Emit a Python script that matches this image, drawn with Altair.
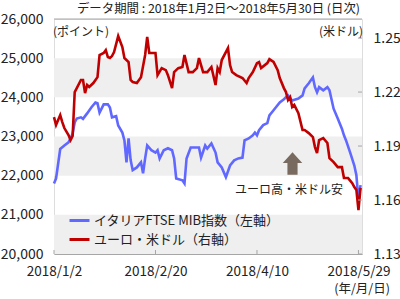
import altair as alt
import pandas as pd

# ---------------- data ----------------
ftse_dates = [
    "2018/01/02", "2018/01/03", "2018/01/05", "2018/01/07", "2018/01/09", "2018/01/10",
    "2018/01/11", "2018/01/12", "2018/01/13", "2018/01/15", "2018/01/16", "2018/01/18",
    "2018/01/20", "2018/01/22", "2018/01/23", "2018/01/24", "2018/01/26", "2018/01/28",
    "2018/01/29", "2018/01/30", "2018/02/01", "2018/02/02", "2018/02/04", "2018/02/05",
    "2018/02/06", "2018/02/07", "2018/02/08", "2018/02/09", "2018/02/11", "2018/02/13",
    "2018/02/14", "2018/02/15", "2018/02/16", "2018/02/18", "2018/02/20", "2018/02/21",
    "2018/02/22", "2018/02/24", "2018/02/26", "2018/02/28", "2018/03/01", "2018/03/02",
    "2018/03/05", "2018/03/06", "2018/03/07", "2018/03/09", "2018/03/13", "2018/03/14",
    "2018/03/16", "2018/03/17", "2018/03/19", "2018/03/21", "2018/03/22", "2018/03/24",
    "2018/03/26", "2018/03/28", "2018/03/30", "2018/04/01", "2018/04/03", "2018/04/04",
    "2018/04/06", "2018/04/08", "2018/04/09", "2018/04/10", "2018/04/11", "2018/04/13",
    "2018/04/15", "2018/04/16", "2018/04/18", "2018/04/21", "2018/04/23", "2018/04/25",
    "2018/04/27", "2018/04/30", "2018/05/02", "2018/05/03", "2018/05/05", "2018/05/07",
    "2018/05/08", "2018/05/09", "2018/05/10", "2018/05/12", "2018/05/14", "2018/05/15",
    "2018/05/17", "2018/05/19", "2018/05/21", "2018/05/22", "2018/05/23", "2018/05/25",
    "2018/05/27", "2018/05/28", "2018/05/29", "2018/05/30",
]
ftse_values = [
    21800, 21930, 22680, 22770, 22850, 22950,
    23080, 23360, 23460, 23490, 23450, 23590,
    23740, 23870, 23850, 23610, 23820, 23820,
    23740, 23490, 23520, 23280, 23100, 22900,
    22340, 22950, 22400, 22140, 22210, 22340,
    22060, 22440, 22770, 22650, 22590, 22650,
    22440, 22650, 22700, 22650, 22440, 21930,
    21880, 21800, 22440, 22720, 22720, 22460,
    22770, 22690, 22820, 22590, 22340, 22210,
    21960, 22260, 22390, 22440, 22460, 22900,
    22950, 23030, 23100, 23030, 23160, 23290,
    23340, 23540, 23670, 23870, 23950, 24050,
    23920, 23970, 24050, 24230, 24360, 24510,
    24260, 24130, 24260, 24180, 24260, 24180,
    23710, 23460, 23200, 23030, 22900, 22590,
    22260, 22010, 21370, 21760,
]

eur_dates = [
    "2018/01/02", "2018/01/03", "2018/01/05", "2018/01/06", "2018/01/07", "2018/01/09",
    "2018/01/10", "2018/01/11", "2018/01/12", "2018/01/13", "2018/01/15", "2018/01/16",
    "2018/01/17", "2018/01/18", "2018/01/19", "2018/01/21", "2018/01/23", "2018/01/24",
    "2018/01/26", "2018/01/27", "2018/01/28", "2018/01/29", "2018/01/30", "2018/01/31",
    "2018/02/02", "2018/02/04", "2018/02/05", "2018/02/07", "2018/02/08", "2018/02/09",
    "2018/02/11", "2018/02/13", "2018/02/15", "2018/02/16", "2018/02/17", "2018/02/20",
    "2018/02/21", "2018/02/23", "2018/02/25", "2018/02/26", "2018/02/28", "2018/03/01",
    "2018/03/03", "2018/03/05", "2018/03/06", "2018/03/08", "2018/03/10", "2018/03/12",
    "2018/03/13", "2018/03/15", "2018/03/17", "2018/03/19", "2018/03/21", "2018/03/22",
    "2018/03/23", "2018/03/24", "2018/03/27", "2018/03/28", "2018/03/29", "2018/03/31",
    "2018/04/03", "2018/04/05", "2018/04/06", "2018/04/08", "2018/04/10", "2018/04/11",
    "2018/04/12", "2018/04/15", "2018/04/16", "2018/04/18", "2018/04/20", "2018/04/21",
    "2018/04/23", "2018/04/24", "2018/04/25", "2018/04/26", "2018/04/27", "2018/04/28",
    "2018/04/30", "2018/05/02", "2018/05/03", "2018/05/05", "2018/05/07", "2018/05/08",
    "2018/05/09", "2018/05/10", "2018/05/12", "2018/05/14", "2018/05/15", "2018/05/17",
    "2018/05/19", "2018/05/21", "2018/05/22", "2018/05/24", "2018/05/26", "2018/05/27",
    "2018/05/28", "2018/05/29", "2018/05/30",
]
eur_values = [
    1.2061, 1.2017, 1.2072, 1.2033, 1.2000, 1.1961,
    1.1933, 1.1956, 1.2200, 1.2222, 1.2267, 1.2267,
    1.2194, 1.2239, 1.2228, 1.2250, 1.2283, 1.2406,
    1.2417, 1.2433, 1.2394, 1.2389, 1.2400, 1.2422,
    1.2511, 1.2450, 1.2389, 1.2367, 1.2267, 1.2256,
    1.2250, 1.2283, 1.2406, 1.2506, 1.2417, 1.2417,
    1.2294, 1.2333, 1.2322, 1.2294, 1.2222, 1.2311,
    1.2333, 1.2339, 1.2406, 1.2311, 1.2311, 1.2333,
    1.2389, 1.2311, 1.2311, 1.2339, 1.2239, 1.2333,
    1.2311, 1.2378, 1.2444, 1.2350, 1.2311, 1.2294,
    1.2278, 1.2250, 1.2278, 1.2311, 1.2361, 1.2367,
    1.2333, 1.2361, 1.2383, 1.2367, 1.2322, 1.2278,
    1.2222, 1.2200, 1.2156, 1.2172, 1.2117, 1.2128,
    1.2083, 1.1989, 1.1989, 1.1972, 1.1950, 1.1894,
    1.1861, 1.1933, 1.1944, 1.1917, 1.1833, 1.1811,
    1.1783, 1.1783, 1.1722, 1.1722, 1.1694, 1.1672,
    1.1656, 1.1544, 1.1667,
]

series_names = ["イタリアFTSE MIB指数（左軸）", "ユーロ・米ドル（右軸）"]
series_colors = ["#6068FF", "#C00000"]

band_low = [20000, 22000, 24000]
band_high = [21000, 23000, 25000]
left_ticks = [20000, 21000, 22000, 23000, 24000, 25000, 26000]
right_ticks = [1.13, 1.16, 1.19, 1.22, 1.25]
x_tick_dates = ["2018/01/02", "2018/02/20", "2018/04/10", "2018/05/29"]

title_text = "データ期間 : 2018年1月2日～2018年5月30日 (日次)"
left_unit = "(ポイント)"
right_unit = "(米ドル)"
x_unit = "(年/月/日)"
note_text = "ユーロ高・米ドル安"

# ---------------- layout ----------------
W, H = 308, 235
FONT = "Noto Sans CJK JP"
TXT = "#222222"
GRID = "#A6A6A6"

df_ftse = pd.DataFrame({"date": ftse_dates, "value": ftse_values, "series": series_names[0]})
df_eur = pd.DataFrame({"date": eur_dates, "value": eur_values, "series": series_names[1]})

x_scale = alt.Scale(domain=[alt.DateTime(year=2018, month=1, date=2),
                            alt.DateTime(year=2018, month=5, date=30, hours=17)])
left_scale = alt.Scale(domain=[20000, 26000], nice=False, zero=False)
right_scale = alt.Scale(domain=[1.13, 1.2606], nice=False, zero=False)
color_scale = alt.Scale(domain=series_names, range=series_colors)

one = alt.Data(values=[{"a": 1}])

x_axis = alt.Axis(
    values=[alt.DateTime(year=2018, month=1, date=2), alt.DateTime(year=2018, month=2, date=20),
            alt.DateTime(year=2018, month=4, date=10), alt.DateTime(year=2018, month=5, date=29)],
    format="%Y/%-m/%-d", title=None, ticks=False, grid=False, domainColor=GRID,
    labelFontSize=13.5, labelColor=TXT, labelPadding=10, labelFont=FONT,
    labelFlush=False, labelOverlap=False, labelBound=False)

bands = alt.Chart(pd.DataFrame({"lo": band_low, "hi": band_high})).mark_rect(
    color="#EFEFEF").encode(
    x=alt.value(0), x2=alt.value(W),
    y=alt.Y("lo:Q", scale=left_scale, axis=None), y2="hi:Q")

top_line = alt.Chart(one).mark_rule(color=GRID, strokeWidth=1).encode(
    x=alt.value(0), x2=alt.value(W), y=alt.value(0))

legend = alt.Legend(title=None, orient="none", legendX=14, legendY=190,
                    symbolType="stroke", symbolSize=400, symbolStrokeWidth=3,
                    labelFontSize=13, labelFont=FONT, labelColor=TXT, labelOffset=3,
                    rowPadding=0, padding=0, labelLimit=400)

ftse_line = alt.Chart(df_ftse).mark_line(strokeWidth=2.6).encode(
    x=alt.X("date:T", scale=x_scale, axis=x_axis),
    y=alt.Y("value:Q", scale=left_scale,
            axis=alt.Axis(values=left_ticks, format=",d", title=None, ticks=False,
                          domain=False, grid=False, labelPadding=11, labelFontSize=14,
                          labelColor=TXT, labelFont=FONT)),
    color=alt.Color("series:N", scale=color_scale, legend=legend))

eur_line = alt.Chart(df_eur).mark_line(strokeWidth=2.6).encode(
    x=alt.X("date:T", scale=x_scale, axis=x_axis),
    y=alt.Y("value:Q", scale=right_scale,
            axis=alt.Axis(orient="right", values=right_ticks, format=".2f", title=None,
                          ticks=False, domain=False, grid=False, labelPadding=11,
                          labelFontSize=14, labelColor=TXT, labelFont=FONT)),
    color=alt.Color("series:N", scale=color_scale, legend=legend))

x_ticks = alt.Chart(pd.DataFrame({"date": x_tick_dates})).mark_rule(color=GRID).encode(
    x=alt.X("date:T", scale=x_scale, axis=x_axis), y=alt.value(H - 4), y2=alt.value(H))

r_ticks = alt.Chart(pd.DataFrame({"v": right_ticks})).mark_rule(color=GRID).encode(
    y=alt.Y("v:Q", scale=right_scale, axis=None), x=alt.value(W - 4), x2=alt.value(W))

def label(text, x, y, align, size):
    return alt.Chart(one).mark_text(text=text, align=align, baseline="middle",
                                    fontSize=size, font=FONT, color=TXT).encode(
        x=alt.value(x), y=alt.value(y))

arrow = alt.Chart(one).mark_point(
    shape="M0,-1.15 L1,-0.05 L0.52,-0.05 L0.52,1.15 L-0.52,1.15 L-0.52,-0.05 L-1,-0.05 Z",
    size=380, filled=True, opacity=1, color="#786A5E", strokeWidth=0).encode(
    x=alt.value(238.5), y=alt.value(144.5))

chart = alt.layer(
    bands, top_line, ftse_line, eur_line, x_ticks, r_ticks,
    label(title_text, 306, -10, "right", 12.4),
    label(left_unit, -1, 13, "left", 12),
    label(right_unit, 309, 13, "right", 12),
    label(note_text, 289, 171, "right", 12),
    label(x_unit, 336, 270, "right", 12.5),
    arrow,
).resolve_scale(y="independent").properties(
    width=W, height=H,
    padding={"left": 54, "top": 19, "right": 38, "bottom": 45},
    autosize=alt.AutoSizeParams(type="none"),
).configure_view(stroke=None).configure(font=FONT)

chart.save("out.html", embed_options={"renderer": "svg", "actions": False})
